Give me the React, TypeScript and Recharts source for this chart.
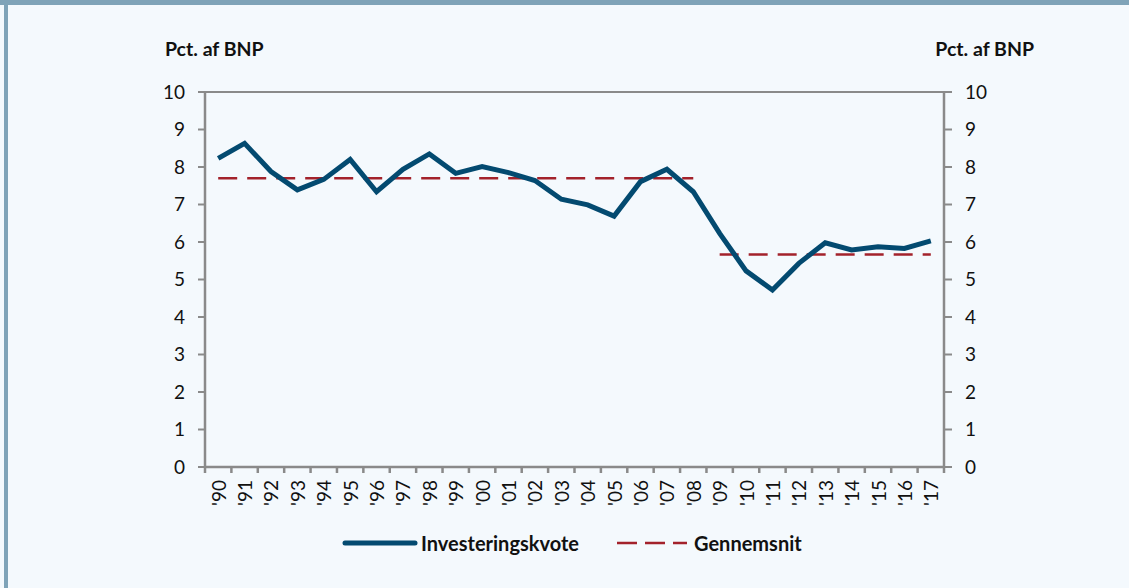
import { CartesianGrid, Line, LineChart, XAxis, YAxis } from 'recharts';

const years = [
  "'90", "'91", "'92", "'93", "'94", "'95", "'96", "'97", "'98", "'99",
  "'00", "'01", "'02", "'03", "'04", "'05", "'06", "'07", "'08", "'09",
  "'10", "'11", "'12", "'13", "'14", "'15", "'16", "'17",
];

const investeringskvote = [
  8.23, 8.63, 7.88, 7.39, 7.67, 8.2, 7.34, 7.94, 8.35, 7.83,
  8.01, 7.85, 7.64, 7.14, 6.99, 6.69, 7.61, 7.94, 7.34, 6.23,
  5.23, 4.72, 5.43, 5.98, 5.79, 5.87, 5.83, 6.03,
];

// gennemsnit for de to perioder
const periodStart = ["'90", "'09"];
const periodEnd = ["'08", "'17"];
const periodAvg = [7.7, 5.67];

const yTicks = [0, 1, 2, 3, 4, 5, 6, 7, 8, 9, 10];

const inPeriod = (i: number, p: number) =>
  i >= years.indexOf(periodStart[p]) && i <= years.indexOf(periodEnd[p]);

const data = years.map((year, i) => ({
  year,
  kvote: investeringskvote[i],
  snit1: inPeriod(i, 0) ? periodAvg[0] : null,
  snit2: inPeriod(i, 1) ? periodAvg[1] : null,
}));

const W = 1129;
const H = 588;
const margin = { top: 92, right: 145, left: 165, bottom: 71 };
const axisW = 40;
const plotW = W - margin.left - margin.right - axisW * 2;
const band = plotW / years.length;

const FONT = 'Lato, "Open Sans", sans-serif';
const GRID = '#8a8a8a';
const BLUE = '#034a70';
const RED = '#a3222b';

const YearTick = (props: any) => {
  const { x, y, payload, index } = props;
  const axisY = y - 13;
  return (
    <g>
      <line x1={x - band / 2} y1={axisY} x2={x - band / 2} y2={axisY + 6} stroke={GRID} strokeWidth={2.5} />
      {index === years.length - 1 && (
        <line x1={x + band / 2} y1={axisY} x2={x + band / 2} y2={axisY + 6} stroke={GRID} strokeWidth={2.5} />
      )}
      <text
        x={x}
        y={y}
        transform={`rotate(-90, ${x}, ${y})`}
        textAnchor="end"
        dominantBaseline="central"
        fill="#111"
        fontSize={19}
        fontFamily={FONT}
      >
        {payload.value}
      </text>
    </g>
  );
};

const App = () => {
  return (
    <div
      style={{
        position: 'fixed',
        top: 0,
        left: 0,
        width: W,
        height: H,
        background: '#f4f9fd',
        fontFamily: FONT,
        overflow: 'hidden',
      }}
    >
      <div style={{ position: 'absolute', top: 0, left: 0, width: W, height: 5, background: '#7fa3b8' }} />
      <div style={{ position: 'absolute', top: 0, left: 4, width: 4, height: H, background: '#7fa3b8' }} />

      <div style={{ position: 'absolute', top: 37, left: 165, fontSize: 19.5, fontWeight: 700, color: '#111' }}>
        Pct. af BNP
      </div>
      <div style={{ position: 'absolute', top: 37, right: 1129 - 1034, fontSize: 19.5, fontWeight: 700, color: '#111' }}>
        Pct. af BNP
      </div>

      <div style={{ position: 'absolute', top: 0, left: 0 }}>
        <LineChart width={W} height={H} data={data} margin={margin}>
          <CartesianGrid horizontal vertical={false} stroke={GRID} strokeWidth={2} />
          <XAxis
            dataKey="year"
            interval={0}
            height={50}
            padding={{ left: band / 2, right: band / 2 }}
            tickLine={false}
            tickSize={6}
            tickMargin={7}
            axisLine={{ stroke: GRID, strokeWidth: 2.5 }}
            tick={<YearTick />}
          />
          <YAxis
            yAxisId="left"
            width={axisW}
            domain={[0, 10]}
            ticks={yTicks}
            interval={0}
            tickSize={7}
            tickMargin={13}
            axisLine={{ stroke: GRID, strokeWidth: 2.5 }}
            tickLine={{ stroke: GRID, strokeWidth: 2 }}
            tick={{ fill: '#111', fontSize: 19, fontFamily: FONT }}
          />
          <YAxis
            yAxisId="right"
            orientation="right"
            width={axisW}
            domain={[0, 10]}
            ticks={yTicks}
            interval={0}
            tickSize={8}
            tickMargin={13}
            axisLine={{ stroke: GRID, strokeWidth: 2.5 }}
            tickLine={{ stroke: GRID, strokeWidth: 2 }}
            tick={{ fill: '#111', fontSize: 19, fontFamily: FONT, textAnchor: 'start' }}
          />
          <Line
            yAxisId="left"
            type="linear"
            dataKey="snit1"
            stroke={RED}
            strokeWidth={2.5}
            strokeDasharray="19 10"
            dot={false}
            activeDot={false}
            isAnimationActive={false}
          />
          <Line
            yAxisId="right"
            type="linear"
            dataKey="snit2"
            stroke={RED}
            strokeWidth={2.5}
            strokeDasharray="19 10"
            dot={false}
            activeDot={false}
            isAnimationActive={false}
          />
          <Line
            yAxisId="left"
            type="linear"
            dataKey="kvote"
            stroke={BLUE}
            strokeWidth={5}
            strokeLinejoin="miter"
            dot={false}
            activeDot={false}
            isAnimationActive={false}
          />
        </LineChart>
      </div>

      <div
        style={{
          position: 'absolute',
          top: 531,
          left: 341,
          display: 'flex',
          alignItems: 'center',
          fontSize: 20,
          fontWeight: 700,
          color: '#111',
        }}
      >
        <svg width={78} height={10} style={{ marginRight: 2 }}>
          <line x1={4} y1={5} x2={74} y2={5} stroke={BLUE} strokeWidth={5} strokeLinecap="round" />
        </svg>
        <span>Investeringskvote</span>
        <svg width={70} height={10} style={{ marginLeft: 38, marginRight: 7 }}>
          <line x1={0} y1={5} x2={70} y2={5} stroke={RED} strokeWidth={2.5} strokeDasharray="20 8" />
        </svg>
        <span>Gennemsnit</span>
      </div>
    </div>
  );
};

export default App;
